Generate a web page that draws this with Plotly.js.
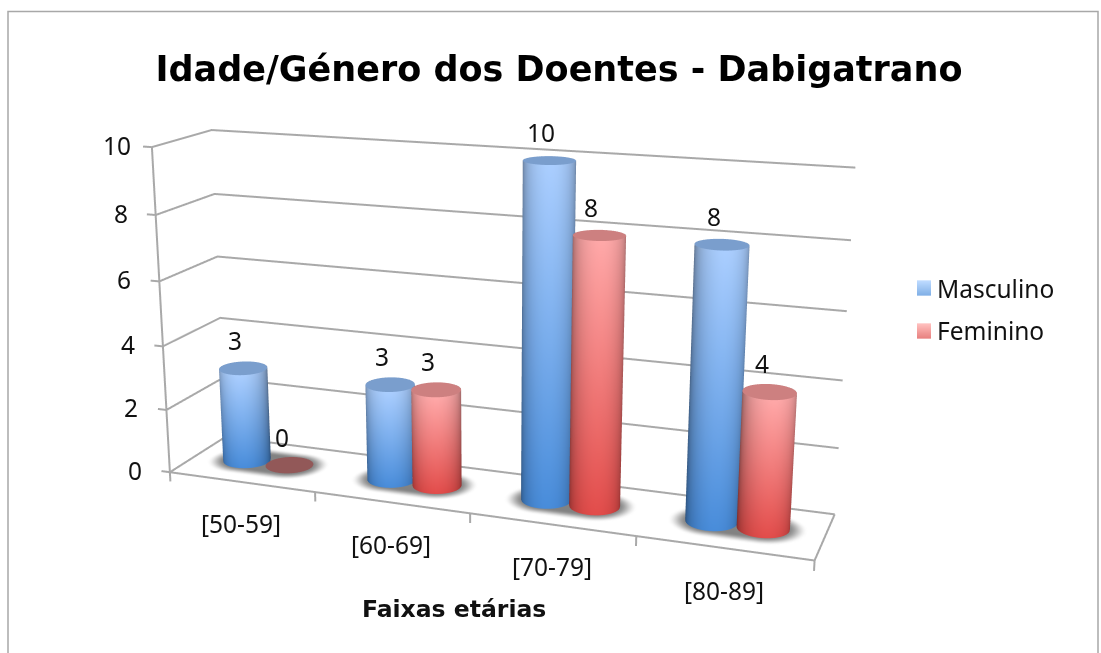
<!DOCTYPE html>
<html><head><meta charset="utf-8">
<script src="https://cdn.plot.ly/plotly-3.0.1.min.js"></script>
<style>html,body{margin:0;padding:0;background:#fff;width:1101px;height:653px;overflow:hidden}
#frame{position:relative;width:1101px;height:653px;overflow:hidden}
#chart{position:absolute;left:0}</style></head>
<body><div id="frame"><div id="chart"></div></div>
<script>
const categories = ["[50-59]","[60-69]","[70-79]","[80-89]"];
const masculino = [3,3,10,8];
const feminino = [0,3,8,4];
const yTicks = [0,2,4,6,8,10];
const seriesNames = ["Masculino","Feminino"];

// Tall canvas: a long lens (Plotly's field of view is fixed), only the middle is shown
const H=1367, CY=329, CX=491;
const TOP=CY-H/2;
document.getElementById('chart').style.top=TOP+'px';
document.getElementById('chart').style.width='1101px';
document.getElementById('chart').style.height=H+'px';
const py=p=>1-(p-TOP)/H, px=p=>p/1101;

const theta=20*Math.PI/180, phi=15.5*Math.PI/180, dist=5.1;
const eye={x:dist*Math.sin(theta)*Math.cos(phi),y:-dist*Math.cos(theta)*Math.cos(phi),z:dist*Math.sin(phi)};
const view=[Math.sin(theta),-Math.cos(theta)];
const R=0.15, RY=0.209, CYL_Y=0.5, OFF=[0.35,0.65], N=40;
const PAL=[{top:[170,206,255],bot:[72,140,218],cap:'rgb(122,158,205)'},{top:[255,168,168],bot:[226,76,74],cap:'rgb(205,128,128)'}];
const ZERO_CAP='rgb(146,88,88)';
const rgb=(c,f)=>`rgb(${c.map(v=>Math.round(Math.min(255,v*f))).join(',')})`;

function cylinder(cx,val,pal){
  const x=[],y=[],z=[],vc=[],i=[],j=[],k=[],S=12;
  for(let s=0;s<=S;s++){const t=s/S;
    const base=pal.bot.map((b,q)=>b+(pal.top[q]-b)*t);
    for(let a=0;a<N;a++){const ang=2*Math.PI*a/N,cs=Math.cos(ang),sn=Math.sin(ang);
      x.push(cx+R*cs);y.push(CYL_Y+RY*sn);z.push(val*t);
      const d=Math.max(0,cs*view[0]+sn*view[1]);
      vc.push(rgb(base,0.55+0.45*Math.pow(d,0.8)));}}
  for(let s=0;s<S;s++)for(let a=0;a<N;a++){const p=s*N+a,q=s*N+(a+1)%N,r=p+N,u=q+N;
    i.push(p,q);j.push(q,u);k.push(r,r);}
  const c0=x.length;x.push(cx);y.push(CYL_Y);z.push(val);vc.push(pal.cap);
  for(let a=0;a<N;a++){const ang=2*Math.PI*a/N;x.push(cx+R*Math.cos(ang));y.push(CYL_Y+RY*Math.sin(ang));z.push(val);vc.push(pal.cap);}
  for(let a=0;a<N;a++){i.push(c0);j.push(c0+1+a);k.push(c0+1+(a+1)%N);}
  return meshOf(x,y,z,vc,i,j,k);
}
function meshOf(x,y,z,vc,i,j,k){return {type:'mesh3d',x,y,z,i,j,k,vertexcolor:vc,hoverinfo:'skip',showlegend:false,flatshading:false,
  lighting:{ambient:1,diffuse:0,specular:0,fresnel:0,roughness:1},lightposition:{x:0,y:0,z:1000}};}
function zeroDisc(cx,col){
  const x=[cx],y=[CYL_Y],z=[0.03],vc=[col],i=[],j=[],k=[];
  for(let a=0;a<N;a++){const ang=2*Math.PI*a/N;x.push(cx+R*Math.cos(ang));y.push(CYL_Y+RY*Math.sin(ang));z.push(0.03);vc.push(col);}
  for(let a=0;a<N;a++){i.push(0);j.push(1+a);k.push(1+(a+1)%N);}
  return meshOf(x,y,z,vc,i,j,k);
}
function shadow(c){ // soft capsule below one category's pair
  const a=c+OFF[0],b=c+OFF[1],nx=60,ny=30,x=[],y=[],z=[],vc=[],i=[],j=[],k=[],W=0.25,A2=RY/R;
  for(let q=0;q<=ny;q++)for(let p=0;p<=nx;p++){
    const X=a-W+(b-a+2*W)*p/nx,Y=CYL_Y-W*A2+2*W*A2*q/ny;
    const dx=X<a?X-a:X>b?X-b:0,dy=(Y-CYL_Y)/A2,d=Math.hypot(dx,dy);
    const t=Math.min(1,Math.max(0,(d-R*0.9)/(W-R*0.9)));
    const v=Math.round(130+125*t*t*(3-2*t));
    x.push(X);y.push(Y);z.push(0.01);vc.push(`rgb(${v},${v},${v})`);}
  for(let q=0;q<ny;q++)for(let p=0;p<nx;p++){const A=q*(nx+1)+p,B=A+1,C=A+nx+1,D=C+1;i.push(A,B);j.push(B,D);k.push(C,C);}
  return meshOf(x,y,z,vc,i,j,k);
}
function line(x,y,z){return {type:'scatter3d',mode:'lines',x,y,z,line:{color:'#a9a9a9',width:4},hoverinfo:'skip',showlegend:false};}

const traces=[];
yTicks.forEach(t=>traces.push(line([-0.06,0,0,4],[0,0,1,1],[t,t,t,t])));
traces.push(line([0,0],[0,0],[0,10]));
traces.push(line([0,4,4],[0,0,1],[0,0,0]));
[0,1,2,3,4].forEach(v=>traces.push(line([v,v],[0,0],[0,-0.3])));
categories.forEach((c,n)=>{
  traces.push(shadow(n));
  [masculino,feminino].forEach((s,m)=>{
    if(s[n]>0)traces.push(cylinder(n+OFF[m],s[n],PAL[m]));
    else traces.push(zeroDisc(n+OFF[m],ZERO_CAP));
  });
});
seriesNames.forEach((nm,m)=>traces.push({type:'scatter3d',mode:'markers',x:[null],y:[null],z:[null],name:nm,legendgroup:nm,showlegend:true,
  marker:{symbol:'square',size:15,color:'rgba(0,0,0,0)'}}));

const F='"Noto Sans"',FS=24.5,TXT='#111';
const ann=[];
yTicks.forEach(t=>ann.push({x:0,y:0,z:t,text:String(t),showarrow:false,xshift:-35,yshift:2,font:{family:F,size:FS,color:TXT}}));
categories.forEach((c,n)=>ann.push({x:n+0.5,y:0,z:0,text:c,showarrow:false,xshift:0,yshift:-42,font:{family:F,size:FS,color:TXT}}));
[masculino,feminino].forEach((s,m)=>s.forEach((v,n)=>ann.push({x:n+OFF[m],y:CYL_Y,z:v,text:String(v),showarrow:false,xshift:-8,yshift:28,font:{family:F,size:FS,color:TXT}})));

// gradient legend keys
const keyShapes=[];
[[280,[168,206,255],[88,150,222]],[323,[255,170,168],[224,88,86]]].forEach(([y0,a,b])=>{
  for(let s=0;s<15;s++){const f=s/14,c=a.map((v,q)=>Math.round(v+(b[q]-v)*f));
    keyShapes.push({type:'rect',xref:'paper',yref:'paper',x0:px(917),x1:px(931),y0:py(y0+s+1),y1:py(y0+s),line:{width:0},fillcolor:`rgb(${c.join(',')})`});}
});

const layout={width:1101,height:H,margin:{l:0,r:0,t:0,b:0,pad:0},paper_bgcolor:'#fff',showlegend:true,
  title:{text:'<b>Idade/Género dos Doentes - Dabigatrano</b>',font:{family:'DejaVu Sans',size:35,color:'#000'},x:px(559),xanchor:'center',y:py(68),yanchor:'middle'},
  legend:{x:px(897),y:py(266),xanchor:'left',yanchor:'top',bgcolor:'rgba(0,0,0,0)',font:{family:F,size:FS,color:TXT},tracegroupgap:7,itemsizing:'constant',traceorder:'grouped'},
  annotations:[{xref:'paper',yref:'paper',x:px(454),y:py(608),xanchor:'center',yanchor:'middle',text:'<b>Faixas etárias</b>',showarrow:false,font:{family:'DejaVu Sans',size:23.5,color:'#111'}}],
  scene:{domain:{x:[0,2*CX/1101],y:[0,1]},
    aspectmode:'manual',aspectratio:{x:2.32,y:0.45,z:1.14},
    camera:{eye,center:{x:0,y:0,z:0},up:{x:0,y:0,z:1},projection:{type:'perspective'}},
    xaxis:{range:[-0.2,4.2],visible:false},
    yaxis:{range:[-0.1,1.1],visible:false},
    zaxis:{range:[-0.3,10.3],visible:false},
    annotations:ann},
  shapes:[{type:'rect',xref:'paper',yref:'paper',x0:px(8),x1:px(1098),y0:py(660),y1:py(11),line:{color:'#a8a8a8',width:1.5},fillcolor:'rgba(0,0,0,0)'}].concat(keyShapes)
};
Plotly.newPlot('chart',traces,layout,{displayModeBar:false});
</script></body></html>
